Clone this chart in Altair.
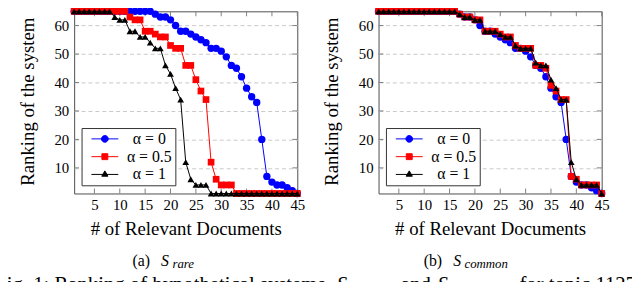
import altair as alt
import pandas as pd

FONT = "Liberation Serif"

# ---------------- data ----------------
docs = [1, 2, 3, 4, 5, 6, 7, 8, 9, 10, 11, 12, 13, 14, 15, 16, 17, 18, 19, 20, 21, 22, 23,
        24, 25, 26, 27, 28, 29, 30, 31, 32, 33, 34, 35, 36, 37, 38, 39, 40, 41, 42, 43, 44, 45]

alpha0_rank = [65, 65, 65, 65, 65, 65, 65, 65, 65, 65, 65, 65, 65, 65, 65, 65, 64, 63, 63, 62,
               60, 58, 58, 57, 56, 55, 54, 52, 52, 51, 49, 46, 45, 42, 38, 35, 33, 20, 7, 5,
               4, 4, 3, 2, 1]
rare_alpha05_rank = [65, 65, 65, 65, 65, 65, 65, 65, 65, 65, 65, 63, 62, 62, 58, 58, 57, 56, 56, 53,
                     52, 52, 46, 46, 41, 37, 34, 12, 6, 4, 4, 4, 1, 1, 1, 1, 1, 1, 1, 1,
                     1, 1, 1, 1, 1]
rare_alpha1_rank = [65, 65, 65, 65, 65, 65, 65, 65, 63, 62, 62, 58, 58, 56, 56, 54, 52, 52, 46, 43,
                    38, 34, 12, 6, 4, 4, 4, 1, 1, 1, 1, 1, 1, 1, 1, 1, 1, 1, 1, 1,
                    1, 1, 1, 1, 1]
common_alpha05_rank = [65, 65, 65, 65, 65, 65, 65, 65, 65, 65, 65, 65, 65, 65, 65, 65, 64, 63, 63, 62,
                       62, 58, 58, 58, 57, 56, 56, 53, 52, 52, 52, 46, 46, 45, 39, 37, 34, 34, 7, 6,
                       4, 4, 4, 4, 1]
common_alpha1_rank = [65, 65, 65, 65, 65, 65, 65, 65, 65, 65, 65, 65, 65, 65, 65, 65, 64, 63, 63, 62,
                      62, 58, 58, 58, 57, 56, 56, 53, 52, 52, 52, 47, 46, 46, 41, 38, 34, 34, 12, 6,
                      4, 4, 4, 4, 1]

series_labels = ["α = 0", "α = 0.5", "α = 1"]
series_colors = ["#0000ff", "#ff0000", "#000000"]
series_shapes = ["circle", "square", "triangle-up"]
series_sizes = [56, 46, 46]

x_ticks = [5, 10, 15, 20, 25, 30, 35, 40, 45]
y_ticks = [10, 20, 30, 40, 50, 60]

x_title = "# of Relevant Documents"
y_title = "Ranking of the system"

captions_a = ["(a)", "S", "rare"]
captions_b = ["(b)", "S", "common"]
fig_caption = ["Fig. 1: Ranking of hypothetical systems", "S", "rare", "and", "S", "common",
               "for topic 11275"]

# legend symbols: marker with a line through it (unit = sqrt(size)/2)
legend_paths = [
    "M-3.4,0L3.4,0M-0.85,0A0.85,0.85,0,1,0,0.85,0A0.85,0.85,0,1,0,-0.85,0Z",
    "M-3.4,0L3.4,0M-0.75,-0.75L0.75,-0.75L0.75,0.75L-0.75,0.75Z",
    "M-3.4,0L3.4,0M0,-0.9L0.78,0.45L-0.78,0.45Z",
]

W, H = 226, 184.5
TICK = "#808080"


def text_layer(txt, x, y, size, style="normal", baseline="alphabetic"):
    return alt.Chart(pd.DataFrame({"t": [txt]})).mark_text(
        font=FONT, fontSize=size, fontStyle=style, align="left", baseline=baseline,
        color="black"
    ).encode(text="t:N", x=alt.value(x), y=alt.value(y))


def panel(ranks, caption, cap_x, with_fig=False):
    df = pd.DataFrame({
        "x": docs + docs + docs,
        "y": ranks[0] + ranks[1] + ranks[2],
        "s": [series_labels[0]] * len(docs) + [series_labels[1]] * len(docs)
             + [series_labels[2]] * len(docs),
    })
    xs = alt.Scale(domain=[1, 45], nice=False, zero=False)
    ys = alt.Scale(domain=[1, 65], nice=False, zero=False)
    X = alt.X("x:Q", scale=xs, axis=alt.Axis(
        values=x_ticks, title=x_title, grid=False, labelPadding=4, labelFlush=False,
        labelFont=FONT, labelFontSize=15, titleFont=FONT, titleFontSize=19,
        titleFontWeight="normal",
        titleX=W / 2, titleY=41.3, titleAlign="center", titleBaseline="alphabetic"))
    Y = alt.Y("y:Q", scale=ys, axis=alt.Axis(
        values=y_ticks, title=y_title, grid=True, gridDash=[4, 3], gridColor="#c8c8c8",
        gridWidth=1, labelPadding=5.5, labelFont=FONT, labelFontSize=15,
        titleFont=FONT, titleFontSize=19, titleFontWeight="normal",
        titleX=-41.5, titleY=91, titleAngle=270,
        titleAlign="center", titleBaseline="alphabetic"))

    layers = []
    # inward ticks on all four sides
    xt = alt.Chart(pd.DataFrame({"x": x_ticks}))
    yt = alt.Chart(pd.DataFrame({"y": y_ticks}))
    layers.append(xt.mark_rule(color=TICK, strokeWidth=1).encode(
        x=X, y=alt.value(H), y2=alt.value(H - 5)))
    layers.append(xt.mark_rule(color=TICK, strokeWidth=1).encode(
        x=X, y=alt.value(0), y2=alt.value(5)))
    layers.append(yt.mark_rule(color=TICK, strokeWidth=1).encode(
        y=Y, x=alt.value(0), x2=alt.value(5)))
    layers.append(yt.mark_rule(color=TICK, strokeWidth=1).encode(
        y=Y, x=alt.value(W - 5), x2=alt.value(W)))

    base = alt.Chart(df)
    for lab, col, shp, sz in zip(series_labels, series_colors, series_shapes, series_sizes):
        sub = base.transform_filter(alt.datum.s == lab)
        layers.append(sub.mark_line(color=col, strokeWidth=1).encode(x=X, y=Y))
        layers.append(sub.mark_point(shape=shp, filled=True, color=col, size=sz,
                                     opacity=1).encode(x=X, y=Y))

    leg = alt.Legend(title=None, orient="none", legendX=7.5, legendY=118.2,
                     strokeColor="#333333", fillColor="white", padding=3,
                     labelFont=FONT, labelFontSize=16, labelColor="black",
                     labelAlign="center", labelOffset=37, symbolOffset=12.6,
                     symbolSize=64, symbolStrokeWidth=1, rowPadding=2)
    dom = alt.Scale(domain=series_labels, range=series_colors)
    layers.append(
        alt.Chart(pd.DataFrame({"s": series_labels})).transform_filter("false")
        .mark_point(filled=True, opacity=1, strokeWidth=1)
        .encode(fill=alt.Fill("s:N", scale=dom, legend=leg),
                stroke=alt.Stroke("s:N", scale=dom, legend=leg),
                shape=alt.Shape("s:N", scale=alt.Scale(domain=series_labels,
                                                       range=legend_paths), legend=leg))
    )

    # sub-caption  (x) S_sub
    layers.append(text_layer(caption[0], cap_x[0], 257.5, 16))
    layers.append(text_layer(caption[1], cap_x[1], 257.5, 16, "italic"))
    layers.append(text_layer(caption[2], cap_x[2], 260.3, 13, "italic"))

    if with_fig:
        fy = 283.5
        layers.append(text_layer(fig_caption[0], -80, fy, 21))
        layers.append(text_layer(fig_caption[1], 266, fy, 21, "italic"))
        layers.append(text_layer(fig_caption[2], 278, fy + 4, 15, "italic"))
        layers.append(text_layer(fig_caption[3], 331, fy, 21))
        layers.append(text_layer(fig_caption[4], 368, fy, 21, "italic"))
        layers.append(text_layer(fig_caption[5], 380, fy + 4, 15, "italic"))
        layers.append(text_layer(fig_caption[6], 451, fy, 21))

    return alt.layer(*layers).properties(width=W, height=H)


left = panel([alpha0_rank, rare_alpha05_rank, rare_alpha1_rank], captions_a,
             [59, 88, 99.5], with_fig=True)
right = panel([alpha0_rank, common_alpha05_rank, common_alpha1_rank], captions_b,
              [45.7, 75.7, 87])

chart = (
    alt.hconcat(left, right, spacing=82.3, bounds="flush")
    .resolve_scale(fill="independent", stroke="independent", shape="independent")
    .properties(padding={"left": -14, "top": -3.4, "right": -16, "bottom": -17})
    .configure_view(stroke="#4d4d4d", strokeWidth=1)
    .configure_axis(domain=False, ticks=False, labelFont=FONT, labelFontSize=15,
                    labelColor="black", titleFont=FONT, titleFontSize=19,
                    titleFontWeight="normal", titleColor="black")
    .configure_legend(labelFont=FONT, labelFontSize=16, labelColor="black")
)

chart.save("out.html", embed_options={"renderer": "svg", "actions": False})
